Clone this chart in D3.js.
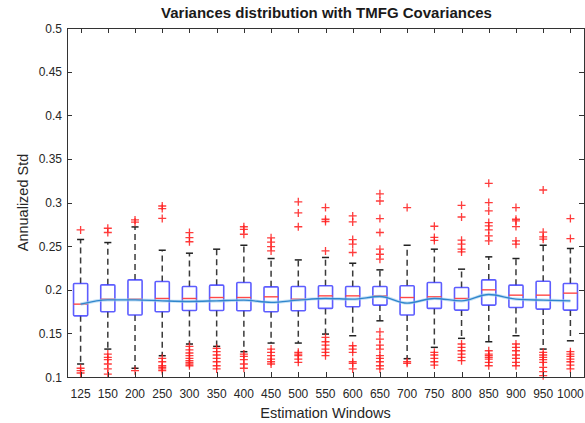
<!DOCTYPE html>
<html>
<head>
<meta charset="utf-8">
<script src="https://cdn.jsdelivr.net/npm/d3@7"></script>
<style>
  html, body { margin: 0; padding: 0; background: #fff; }
  svg { display: block; font-family: "Liberation Sans", Arial, Helvetica, sans-serif; }
</style>
</head>
<body>
<svg id="chart" width="585" height="423"></svg>
<script>
// Estimation window lengths (one box per window)
const windows = [125, 150, 200, 250, 300, 350, 400, 450, 500, 550, 600, 650, 700, 750, 800, 850, 900, 950, 1000];

// Box statistics of the annualized std per window
const q1 = [0.1701, 0.1747, 0.1710, 0.1747, 0.1763, 0.1763, 0.1759, 0.1747, 0.1759, 0.1786, 0.1805, 0.1824, 0.1710, 0.1786, 0.1767, 0.1824, 0.1797, 0.1778, 0.1767];
const medians = [0.1835, 0.1892, 0.1892, 0.1900, 0.1900, 0.1911, 0.1911, 0.1919, 0.1892, 0.1930, 0.1930, 0.1930, 0.1911, 0.1919, 0.1900, 0.1999, 0.1938, 0.1938, 0.1961];
const q3 = [0.2072, 0.2056, 0.2113, 0.2095, 0.2038, 0.2053, 0.2083, 0.2033, 0.2038, 0.2045, 0.2038, 0.2038, 0.2045, 0.2083, 0.2026, 0.2113, 0.2053, 0.2098, 0.2072];
const whiskerLow = [0.1149, 0.1320, 0.1100, 0.1244, 0.1378, 0.1351, 0.1290, 0.1389, 0.1389, 0.1492, 0.1473, 0.1644, 0.1210, 0.1340, 0.1443, 0.1404, 0.1473, 0.1320, 0.1415];
const whiskerHigh = [0.2576, 0.2541, 0.2720, 0.2453, 0.2419, 0.2465, 0.2510, 0.2358, 0.2342, 0.2370, 0.2304, 0.2228, 0.2510, 0.2465, 0.2236, 0.2377, 0.2358, 0.2510, 0.2473];

// Outliers above the upper whisker
const outliersHigh = [
  [0.2686],
  [0.2705, 0.2656],
  [0.2800, 0.2775],
  [0.2960, 0.2930, 0.2818],
  [0.2655, 0.2598, 0.2550],
  [],
  [0.2722, 0.2693, 0.2636],
  [0.2595, 0.2545, 0.2495, 0.2445],
  [0.3008, 0.2880, 0.2722],
  [0.2942, 0.2808, 0.2782, 0.2445],
  [0.2846, 0.2777, 0.2575, 0.2522, 0.2427],
  [0.3100, 0.3017, 0.2816, 0.2656, 0.2465, 0.2407, 0.2350],
  [0.2942],
  [0.2728, 0.2600, 0.2565],
  [0.2968, 0.2834, 0.2568, 0.2522, 0.2465, 0.2434],
  [0.3220, 0.2999, 0.2903, 0.2770, 0.2731, 0.2686, 0.2617, 0.2560],
  [0.2942, 0.2808, 0.2789, 0.2724, 0.2560, 0.2522],
  [0.3143, 0.2660, 0.2605, 0.2580],
  [0.2816, 0.2587]
];

// Outliers below the lower whisker
const outliersLow = [
  [0.1100, 0.1072, 0.1046],
  [0.1263, 0.1225, 0.1198, 0.1149, 0.1092, 0.1034],
  [0.1072],
  [0.1214, 0.1175, 0.1129, 0.1111, 0.1092, 0.1072],
  [0.1351, 0.1312, 0.1275, 0.1244, 0.1214, 0.1187, 0.1168, 0.1149, 0.1129],
  [0.1328, 0.1290, 0.1252, 0.1214, 0.1175, 0.1129, 0.1092],
  [0.1263, 0.1237, 0.1198, 0.1149, 0.1100],
  [0.1320, 0.1283, 0.1244, 0.1206, 0.1175, 0.1149],
  [0.1283, 0.1263, 0.1244, 0.1206, 0.1168],
  [0.1454, 0.1404, 0.1366, 0.1320, 0.1283, 0.1244],
  [0.1358, 0.1320, 0.1283, 0.1175, 0.1157, 0.1092],
  [0.1518, 0.1435, 0.1366, 0.1320, 0.1244, 0.1214, 0.1175, 0.1129, 0.1092],
  [0.1175, 0.1157],
  [0.1283, 0.1252, 0.1214, 0.1175, 0.1137],
  [0.1378, 0.1340, 0.1301, 0.1263, 0.1225, 0.1187],
  [0.1301, 0.1263, 0.1244, 0.1225, 0.1206, 0.1168, 0.1129],
  [0.1378, 0.1340, 0.1301, 0.1252, 0.1214, 0.1168, 0.1129],
  [0.1283, 0.1252, 0.1225, 0.1198, 0.1168, 0.1111, 0.1061, 0.1015],
  [0.1290, 0.1263, 0.1237, 0.1206, 0.1175, 0.1137, 0.1092]
];

// Mean annualized std across windows
const meanStd = [0.1835, 0.1884, 0.1884, 0.1873, 0.1866, 0.1873, 0.1881, 0.1855, 0.1881, 0.1900, 0.1892, 0.1923, 0.1847, 0.1900, 0.1873, 0.1946, 0.1892, 0.1881, 0.1873];

const yTicks = [0.1, 0.15, 0.2, 0.25, 0.3, 0.35, 0.4, 0.45, 0.5];
const yTickLabels = ["0.1", "0.15", "0.2", "0.25", "0.3", "0.35", "0.4", "0.45", "0.5"];

const titleText = "Variances distribution with TMFG Covariances";
const xTitle = "Estimation Windows";
const yTitle = "Annualized Std";

// Layout
const plotLeft = 67, plotRight = 584, plotTop = 28, plotBottom = 377;
const svg = d3.select("#chart");
const axisColor = "#333333";
const textColor = "#262626";

const x = d3.scaleBand().domain(windows.map(String)).range([plotLeft, plotRight]).paddingInner(0).paddingOuter(0);
const y = d3.scaleLinear().domain([0.1, 0.5]).range([plotBottom, plotTop]);
const bw = x.bandwidth();
const cx = i => x(String(windows[i])) + bw / 2;
const boxHalf = bw * 0.26;
const capHalf = bw * 0.13;

const plot = svg.append("g");
const idx = d3.range(windows.length);

// Whiskers (dashed)
plot.append("g").selectAll("line").data(idx).join("line")
  .attr("x1", cx).attr("x2", cx)
  .attr("y1", i => y(q3[i])).attr("y2", i => y(whiskerHigh[i]))
  .attr("stroke", "#3a3a3a").attr("stroke-width", 1.5).attr("stroke-dasharray", "6,4");
plot.append("g").selectAll("line").data(idx).join("line")
  .attr("x1", cx).attr("x2", cx)
  .attr("y1", i => y(q1[i])).attr("y2", i => y(whiskerLow[i]))
  .attr("stroke", "#3a3a3a").attr("stroke-width", 1.5).attr("stroke-dasharray", "6,4");

// Whisker caps
[whiskerHigh, whiskerLow].forEach(arr => {
  plot.append("g").selectAll("line").data(idx).join("line")
    .attr("x1", i => cx(i) - capHalf).attr("x2", i => cx(i) + capHalf)
    .attr("y1", i => y(arr[i])).attr("y2", i => y(arr[i]))
    .attr("stroke", "#222").attr("stroke-width", 1.5);
});

// Boxes
plot.append("g").selectAll("rect").data(idx).join("rect")
  .attr("x", i => cx(i) - boxHalf)
  .attr("width", boxHalf * 2)
  .attr("y", i => y(q3[i]))
  .attr("height", i => y(q1[i]) - y(q3[i]))
  .attr("fill", "none")
  .attr("stroke", "#3434ff").attr("stroke-width", 1.6)
  .attr("stroke-opacity", 0.8)
  .attr("rx", 1);

// Medians
plot.append("g").selectAll("line").data(idx).join("line")
  .attr("x1", i => cx(i) - boxHalf).attr("x2", i => cx(i) + boxHalf)
  .attr("y1", i => y(medians[i])).attr("y2", i => y(medians[i]))
  .attr("stroke", "#ff4848").attr("stroke-width", 1.4);

// Outliers as '+' markers
const pts = [];
idx.forEach(i => {
  outliersHigh[i].forEach(v => pts.push([i, v]));
  outliersLow[i].forEach(v => pts.push([i, v]));
});
const plus = "M-4,0H4M0,-4V4";
plot.append("g").selectAll("path").data(pts).join("path")
  .attr("d", plus)
  .attr("transform", d => `translate(${cx(d[0])},${y(d[1])})`)
  .attr("stroke", "#ff1a1a").attr("stroke-width", 1.3).attr("fill", "none")
  .attr("stroke-opacity", 0.85);

// Mean line
const line = d3.line().x((d, i) => cx(i)).y(d => y(d)).curve(d3.curveMonotoneX);
plot.append("path").datum(meanStd)
  .attr("d", line)
  .attr("fill", "none")
  .attr("stroke", "#9ccbf0").attr("stroke-width", 3.2).attr("stroke-opacity", 0.6);
plot.append("path").datum(meanStd)
  .attr("d", line)
  .attr("fill", "none")
  .attr("stroke", "#2f86cc").attr("stroke-width", 1.4);

// Axes frame
const axes = svg.append("g");
axes.append("rect")
  .attr("x", plotLeft + 0.5).attr("y", plotTop + 0.5)
  .attr("width", plotRight - plotLeft).attr("height", plotBottom - plotTop)
  .attr("fill", "none").attr("stroke", axisColor).attr("stroke-width", 1);

// Y ticks (left and right, inward)
yTicks.forEach((t, k) => {
  const yy = Math.round(y(t)) + 0.5;
  axes.append("line").attr("x1", plotLeft).attr("x2", plotLeft + 5).attr("y1", yy).attr("y2", yy)
    .attr("stroke", axisColor);
  axes.append("line").attr("x1", plotRight - 5).attr("x2", plotRight).attr("y1", yy).attr("y2", yy)
    .attr("stroke", axisColor);
  axes.append("text").attr("x", plotLeft - 5).attr("y", y(t) + 4.5)
    .attr("text-anchor", "end").attr("font-size", 12).attr("fill", textColor)
    .text(yTickLabels[k]);
});

// X ticks (bottom and top, inward)
idx.forEach(i => {
  const xx = Math.round(cx(i)) + 0.5;
  axes.append("line").attr("x1", xx).attr("x2", xx).attr("y1", plotBottom).attr("y2", plotBottom - 5)
    .attr("stroke", axisColor);
  axes.append("line").attr("x1", xx).attr("x2", xx).attr("y1", plotTop).attr("y2", plotTop + 5)
    .attr("stroke", axisColor);
  axes.append("text").attr("x", cx(i)).attr("y", 398)
    .attr("text-anchor", "middle").attr("font-size", 12).attr("fill", textColor)
    .text(windows[i]);
});

// Titles
svg.append("text").attr("x", (plotLeft + plotRight) / 2 + 1).attr("y", 18)
  .attr("text-anchor", "middle").attr("font-size", 15).attr("font-weight", "bold")
  .attr("fill", "#1a1a1a").text(titleText);
svg.append("text").attr("x", (plotLeft + plotRight) / 2).attr("y", 418)
  .attr("text-anchor", "middle").attr("font-size", 14.5).attr("fill", textColor)
  .text(xTitle);
svg.append("text")
  .attr("transform", `translate(28,${(plotTop + plotBottom) / 2}) rotate(-90)`)
  .attr("text-anchor", "middle").attr("font-size", 14.5).attr("fill", textColor)
  .text(yTitle);
</script>
</body>
</html>
